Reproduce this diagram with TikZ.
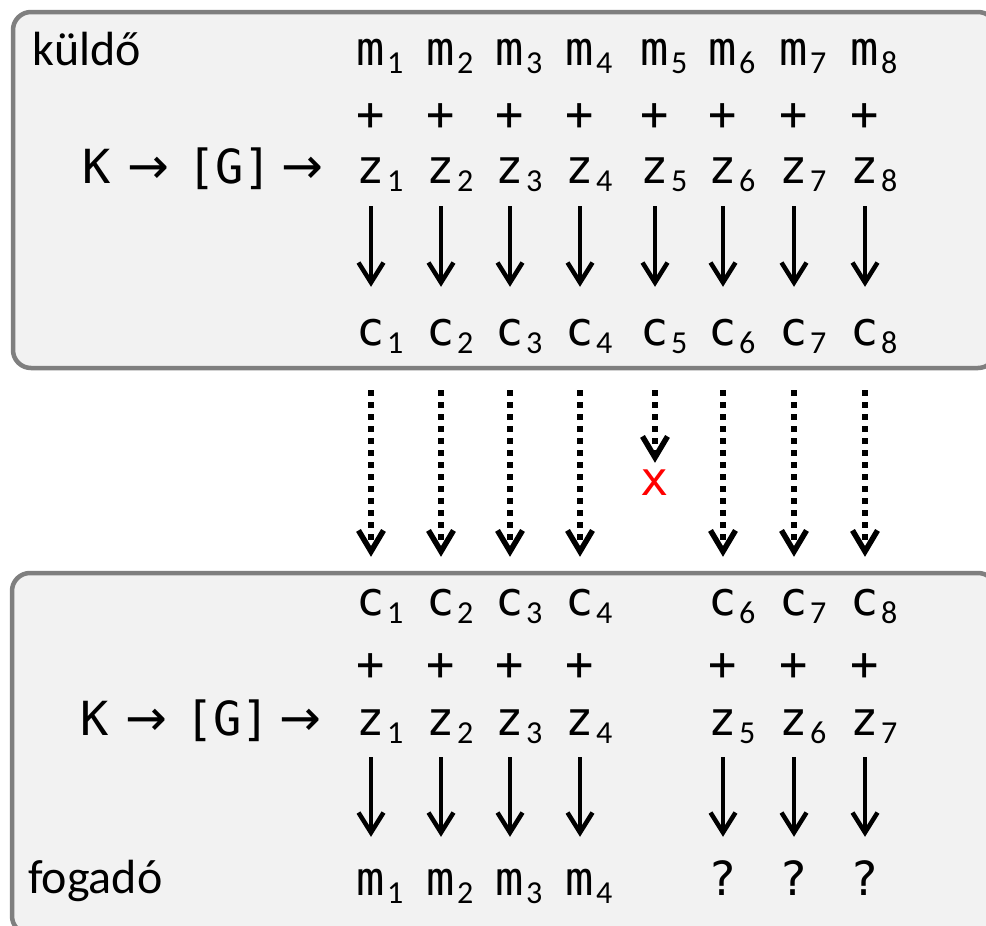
\documentclass[tikz,border=0pt]{standalone}
\usepackage{fontspec}
\usetikzlibrary{arrows.meta}
\newfontfamily\monof{DejaVu Sans Mono}
\newfontfamily\labf{Carlito}
\newfontfamily\arrf{DejaVu Sans}
\newcommand\subf{\labf\fontsize{32}{34}\selectfont}
% letter with a subscript that takes no width, so the node centres on the letter
\newcommand\sy[2]{#1\rlap{\kern2pt\raisebox{-8pt}{\subf #2}}}
% key generator chain: K -> [G] ->
\newcommand\karr{{\arrf\fontsize{50}{54}\selectfont →}}
\newcommand\keychain{K\kern17pt\karr\kern18pt[G]\kern9pt\karr}
\definecolor{boxfill}{HTML}{F2F2F2}
\definecolor{boxline}{HTML}{7F7F7F}

\begin{document}
\begin{tikzpicture}[x=1pt,y=-1pt,
  panel/.style={draw=boxline,fill=boxfill,line width=4.5pt,rounded corners=18pt},
  sym/.style={inner sep=0pt,anchor=base,text height=25pt,text depth=0pt,
    font=\monof\fontsize{47}{52}\selectfont},
  lab/.style={inner sep=0pt,anchor=base west,font=\labf\fontsize{48}{50}\selectfont},
  chain/.style={inner sep=0pt,anchor=base west,font=\monof\fontsize{47}{52}\selectfont},
  solidarr/.style={line width=4.5pt,-{Straight Barb[length=20pt,width=25pt,sharp]},
    shorten <=23pt,shorten >=33pt},
  sendarr/.style={line width=5.5pt,dash pattern=on 5.5pt off 6.5pt,
    -{Straight Barb[length=21pt,width=25pt,sharp]},shorten <=45pt,shorten >=33pt}
]
\useasboundingbox (0,0) rectangle (986,926);
\clip (0,0) rectangle (986,926);

% sender and receiver panels
\draw[panel] (13,12) rectangle (996,368);
\draw[panel] (12,573) rectangle (996,934);

% sender
\node[lab] (send) at (32,65) {küldő};
\node[chain] (ktop) at (82,183) {\keychain};
\foreach \x [count=\i] in {371,441,510,580,655,723,794,865} {
  \node[sym] (m\i) at (\x,65) {\sy{m}{\i}};
  \node[sym] (p\i) at (\x,130) {+};
  \node[sym] (z\i) at (\x,183) {\sy{z}{\i}};
  \node[sym] (c\i) at (\x,345) {\sy{c}{\i}};
  \draw[solidarr] (z\i.south) -- (c\i.north);
}

% receiver
\node[lab] (recv) at (28,893) {fogadó};
\node[chain] (kbot) at (80,735) {\keychain};
\foreach \x/\i/\k in {371/1/1,441/2/2,510/3/3,580/4/4,723/6/5,794/7/6,865/8/7} {
  \node[sym] (rc\i) at (\x,615) {\sy{c}{\i}};
  \node[sym] (rp\i) at (\x,680) {+};
  \node[sym] (rz\i) at (\x,735) {\sy{z}{\k}};
}
\foreach \x [count=\i] in {371,441,510,580} {
  \node[sym] (rm\i) at (\x,895) {\sy{m}{\i}};
}
\foreach \x/\i in {723/6,794/7,865/8} {
  \node[sym] (rm\i) at (\x,895) {?};
}
\foreach \i in {1,2,3,4,6,7,8} {
  \draw[solidarr,shorten <=22pt] (rz\i.south) -- (rm\i.north);
  \draw[sendarr] (c\i.south) -- (rc\i.north);
}

% the lost fifth block
\node[sym,text=red] (lost) at (655,495) {x};
\draw[sendarr,shorten >=7pt] (c5.south) -- (lost.north);
\end{tikzpicture}
\end{document}
